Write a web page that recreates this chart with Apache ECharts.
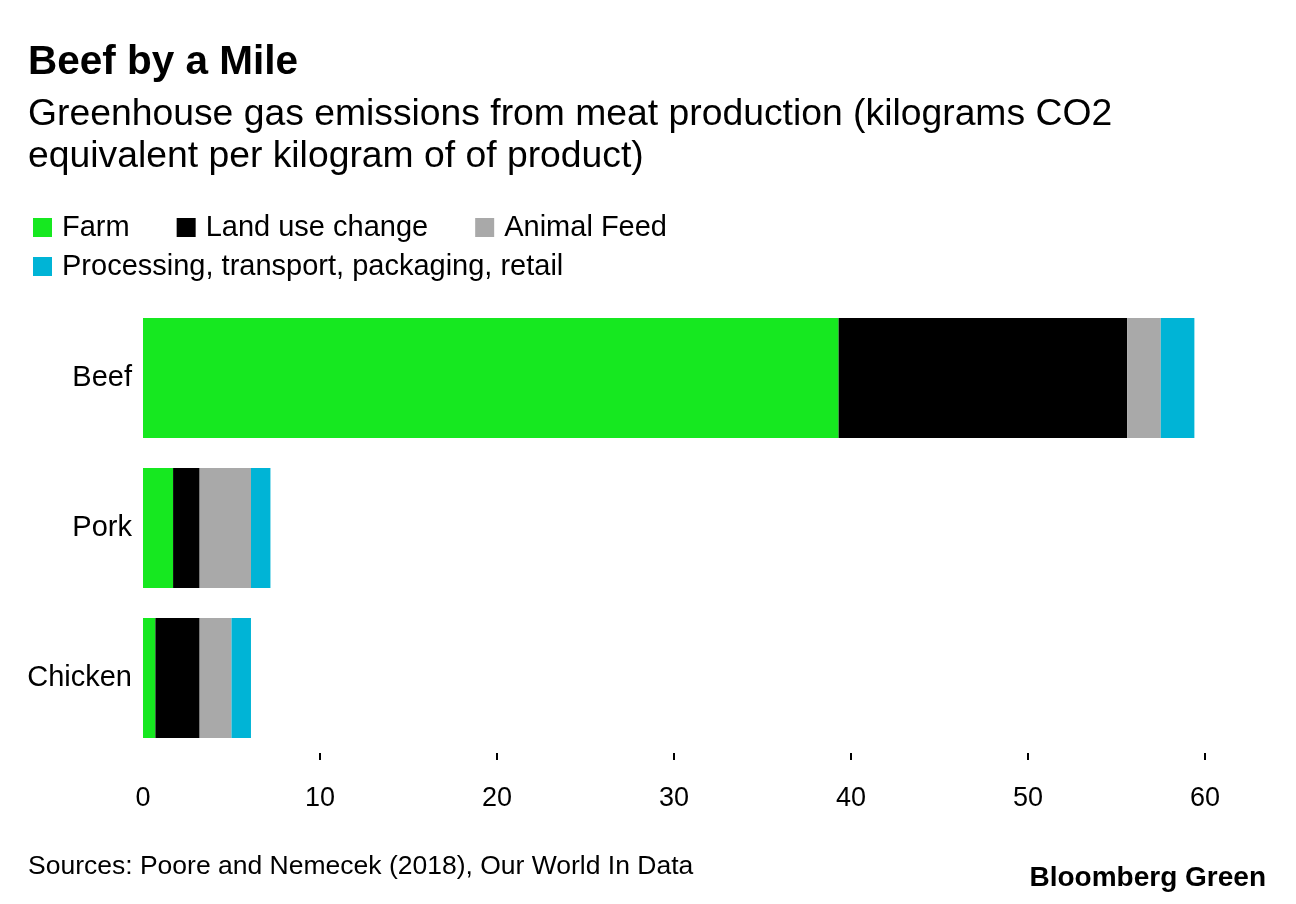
<!DOCTYPE html>
<html>
<head>
<meta charset="utf-8">
<script src="https://cdn.jsdelivr.net/npm/echarts@6/dist/echarts.min.js"></script>
<style>
html,body{margin:0;padding:0;background:#fff;}
#chart{width:1296px;height:904px;}
</style>
</head>
<body>
<div id="chart"></div>
<script>
// ---- Data ----
var categories = ['Beef', 'Pork', 'Chicken'];
var farm = [39.3, 1.7, 0.7];
var landUse = [16.3, 1.5, 2.5];
var animalFeed = [1.9, 2.9, 1.8];
var processing = [1.9, 1.1, 1.1];
var seriesNames = ['Farm', 'Land use change', 'Animal Feed', 'Processing, transport, packaging, retail'];
var tickValues = [10, 20, 30, 40, 50, 60];

var FONT = '"Liberation Sans", Arial, Helvetica, sans-serif';
var colors = ['#16E820', '#000000', '#A9A9A9', '#00B4D6'];

var chart = echarts.init(document.getElementById('chart'), null, {renderer: 'canvas'});

function barSeries(name, data, color) {
  return {
    name: name,
    type: 'bar',
    stack: 'total',
    data: data,
    barWidth: 120,
    itemStyle: {color: color},
    emphasis: {disabled: true},
    animation: false
  };
}

var option = {
  backgroundColor: '#ffffff',
  animation: false,
  textStyle: {fontFamily: FONT},
  title: [
    {
      text: 'Beef by a Mile',
      left: 28, top: 43, padding: 0,
      textStyle: {fontFamily: FONT, fontSize: 40.5, fontWeight: 'bold', color: '#000', lineHeight: 40}
    },
    {
      text: 'Greenhouse gas emissions from meat production (kilograms CO2\nequivalent per kilogram of of product)',
      left: 28, top: 94, padding: 0,
      textStyle: {fontFamily: FONT, fontSize: 37.3, fontWeight: 'normal', color: '#000', lineHeight: 42}
    },
    {
      text: 'Sources: Poore and Nemecek (2018), Our World In Data',
      left: 28, top: 853, padding: 0,
      textStyle: {fontFamily: FONT, fontSize: 26.5, fontWeight: 'normal', color: '#000', lineHeight: 28}
    },
    {
      text: 'Bloomberg Green',
      right: 30, top: 864, padding: 0,
      textStyle: {fontFamily: FONT, fontSize: 28, fontWeight: 'bold', color: '#000', lineHeight: 28}
    }
  ],
  legend: [
    {
      data: seriesNames.slice(0, 3),
      left: 33, top: 213, padding: 0,
      icon: 'rect',
      itemWidth: 19, itemHeight: 19,
      itemGap: 47,
      selectedMode: false,
      textStyle: {fontFamily: FONT, fontSize: 29, color: '#000', padding: [0, 0, 0, 5]}
    },
    {
      data: seriesNames.slice(3),
      left: 33, top: 252, padding: 0,
      icon: 'rect',
      itemWidth: 19, itemHeight: 19,
      itemGap: 47,
      selectedMode: false,
      textStyle: {fontFamily: FONT, fontSize: 29, color: '#000', padding: [0, 0, 0, 5]}
    }
  ],
  grid: {left: 143, right: 91, top: 303, bottom: 151, containLabel: false},
  xAxis: {
    type: 'value',
    min: 0, max: 60, interval: 10,
    axisLine: {show: false},
    splitLine: {show: false},
    axisTick: {show: true, length: 7, customValues: tickValues, lineStyle: {color: '#000', width: 2}},
    axisLabel: {fontFamily: FONT, fontSize: 27, color: '#000', margin: 32}
  },
  yAxis: {
    type: 'category',
    data: categories,
    inverse: true,
    axisLine: {show: false},
    axisTick: {show: false},
    splitLine: {show: false},
    axisLabel: {fontFamily: FONT, fontSize: 29, color: '#000', margin: 11}
  },
  series: [
    barSeries(seriesNames[0], farm, colors[0]),
    barSeries(seriesNames[1], landUse, colors[1]),
    barSeries(seriesNames[2], animalFeed, colors[2]),
    barSeries(seriesNames[3], processing, colors[3])
  ]
};
chart.setOption(option);
</script>
</body>
</html>
